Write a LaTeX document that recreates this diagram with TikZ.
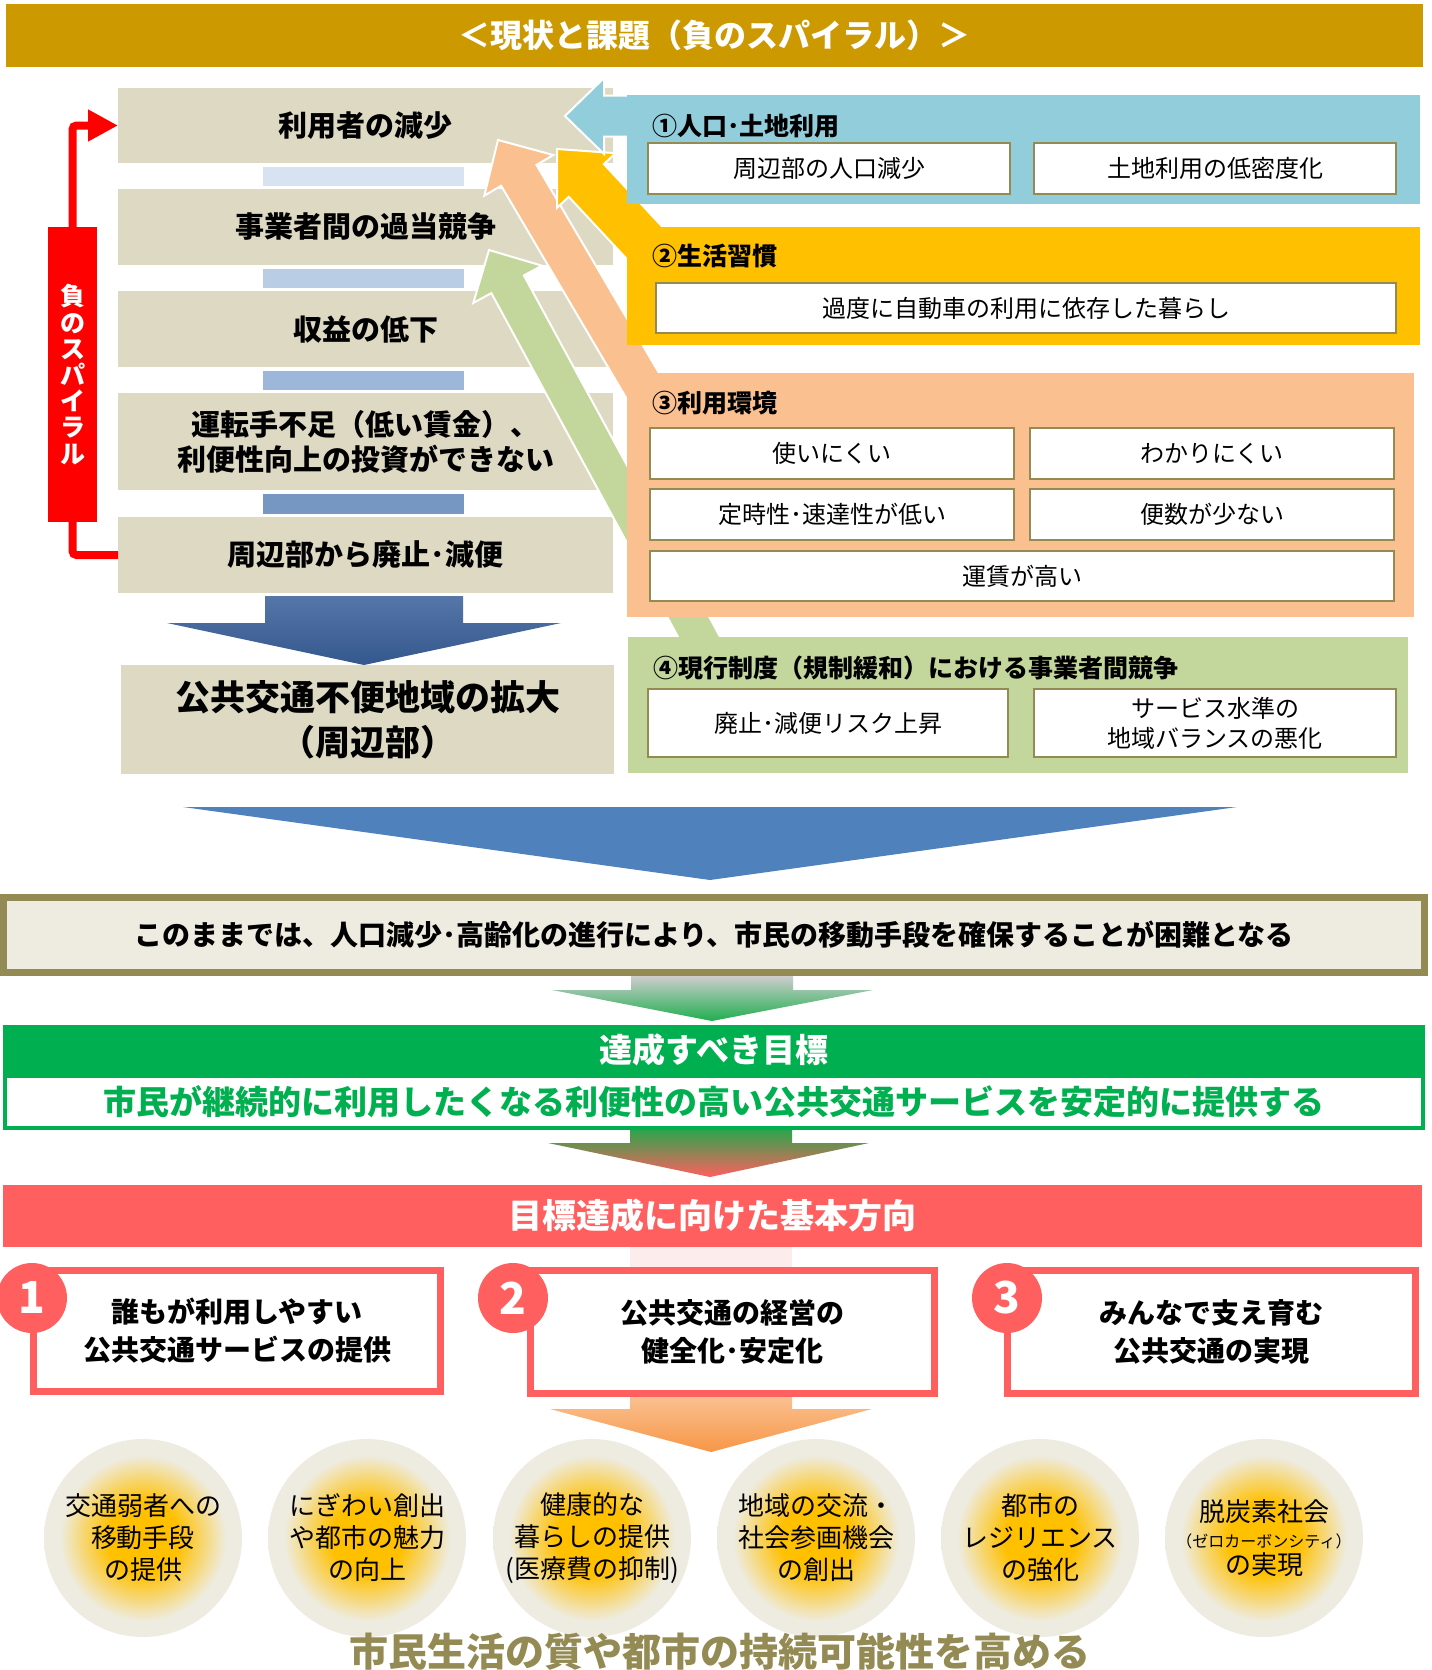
\documentclass[tikz,border=0pt]{standalone}
\usepackage{fontspec}
\setmainfont{Noto Sans CJK JP}
\usetikzlibrary{arrows.meta,calc}
\definecolor{hdrc}{HTML}{CC9900}
\definecolor{beigec}{HTML}{DDD9C3}
\definecolor{p1}{HTML}{92CDDC}
\definecolor{p2}{HTML}{FFC000}
\definecolor{p3}{HTML}{FAC090}
\definecolor{p4}{HTML}{C3D69B}
\definecolor{olivec}{HTML}{948A54}
\definecolor{bar1}{HTML}{D7E3F0}
\definecolor{bar2}{HTML}{B9CDE5}
\definecolor{bar3}{HTML}{9DB7DA}
\definecolor{bar4}{HTML}{7797C3}
\definecolor{shaftA}{HTML}{5676A8}
\definecolor{shaftB}{HTML}{34578D}
\definecolor{bigblue}{HTML}{4F81BD}
\definecolor{paleb}{HTML}{EEECE1}
\definecolor{grn}{HTML}{00B050}
\definecolor{grayA}{HTML}{CDCDCD}
\definecolor{grayM}{HTML}{C6C9C7}
\definecolor{grnB}{HTML}{1FAE4F}
\definecolor{grnC}{HTML}{2EA44C}
\definecolor{grnM}{HTML}{3F9A4E}
\definecolor{salmon}{HTML}{FF5F5F}
\definecolor{palepink}{HTML}{FDECEC}
\definecolor{orA}{HTML}{FAC090}
\definecolor{orB}{HTML}{F79646}
\pgfdeclareradialshading{glow}{\pgfpoint{0bp}{0bp}}{color(0bp)=(p2); color(9bp)=(p2); color(21bp)=(paleb); color(50bp)=(paleb)}
\newcommand\fsz[2]{\fontsize{#1}{#2}\selectfont}
\newcommand\boxat[7]{%
 \pgfmathsetmacro\bxw{(#4-#2)*0.5}\pgfmathsetmacro\bxh{(#5-#3)*0.5}%
 \pgfmathsetmacro\bxx{(#2+#4)/2}\pgfmathsetmacro\bxy{(#3+#5)/2}%
 \node[#6, minimum width=\bxw pt, minimum height=\bxh pt] (#1) at (\bxx,\bxy) {#7};}
\newcommand\blockarrow[8]{%
 \begin{scope}[shift={(#2,#3)},rotate=-#4]
 \filldraw[fill=#1,draw=white,line width=1pt] (0,0) -- (#5,-#6) -- (#5,-#7) -- (#8,-#7) -- (#8,#7) -- (#5,#7) -- (#5,#6) -- cycle;
 \end{scope}}
\begin{document}
\begin{tikzpicture}[x=0.5pt,y=-0.5pt,
 every node/.style={inner sep=0pt, outer sep=0pt},
 beigebox/.style={fill=beigec, align=center, font=\bfseries\fsz{14.5}{17.5}},
 subbox/.style={draw=olivec, line width=1pt, fill=white, align=center, font=\fsz{12}{15}},
 ptitle/.style={anchor=west, font=\bfseries\fsz{12.5}{15}},
 numbox/.style={draw=salmon, line width=3.5pt, fill=white, align=center, font=\bfseries\fsz{14}{19}},
 numc/.style={circle, fill=salmon, minimum size=35pt, text=white, font=\bfseries\fsz{22}{24}},
 glowc/.style={circle, minimum size=99pt, shade, shading=glow, align=center, font=\fsz{13}{16}},
 redline/.style={red, line width=4pt, rounded corners=2pt}]
\fill[white] (0,0) rectangle (1431,1670);
\useasboundingbox (0,0) rectangle (1431,1670);

% header
\boxat{hdr}{6}{4}{1423}{67}{fill=hdrc, text=white, font=\bfseries\fsz{16}{19}}{＜現状と課題（負のスパイラル）＞}

% left column
\boxat{b1}{118}{88}{613}{163}{beigebox}{利用者の減少}
\boxat{b2}{118}{189}{613}{265}{beigebox}{事業者間の過当競争}
\boxat{b3}{118}{291}{613}{367}{beigebox}{収益の低下}
\boxat{b4}{118}{393}{613}{490}{beigebox}{運転手不足（低い賃金）、\\利便性向上の投資ができない}
\boxat{b5}{118}{517}{613}{593}{beigebox}{周辺部から廃止･減便}
\boxat{b6}{121}{665}{614}{774}{beigebox, font=\bfseries\fsz{17.5}{22.5}}{公共交通不便地域の拡大\\（周辺部）}

\fill[bar1] ($(b1.south)+(-102.5,4)$) rectangle ($(b2.north)+(98.5,-3)$);
\fill[bar2] ($(b2.south)+(-102.5,4)$) rectangle ($(b3.north)+(98.5,-3)$);
\fill[bar3] ($(b3.south)+(-102.5,4)$) rectangle ($(b4.north)+(98.5,-3)$);
\fill[bar4] ($(b4.south)+(-102.5,4)$) rectangle ($(b5.north)+(98.5,-3)$);
\shade[top color=shaftA, bottom color=shaftB] (265,596) -- (463,596) -- (463,623) -- (561,623) -- (364,665) -- (167,623) -- (265,623) -- cycle;

% negative spiral
\boxat{spiral}{48}{227}{97}{522}{fill=red, text=white, font=\bfseries\fsz{12.5}{13.1}, align=center}{負\\の\\ス\\パ\\イ\\ラ\\ル}
\draw[redline, -{Triangle[length=15pt,width=15pt]}] (spiral.north) |- (b1.west);
\draw[redline] (spiral.south) |- (b5.west);

% cause arrows
\blockarrow{p4}{489}{250}{61.5}{39}{39}{18.5}{465}
\blockarrow{p3}{498}{140}{59.5}{41}{40}{20.5}{300}
\blockarrow{p2}{557}{149}{47}{43}{40}{24}{140}
\blockarrow{p1}{565}{116}{0}{39}{38}{20.5}{70}

% panels
\boxat{P1}{627}{95}{1420}{204}{fill=p1}{}
\node[ptitle] (t1) at (652,126) {①人口･土地利用};
\boxat{s11}{648}{143}{1010}{194}{subbox}{周辺部の人口減少}
\boxat{s12}{1034}{143}{1396}{194}{subbox}{土地利用の低密度化}

\boxat{P2}{627}{227}{1420}{345}{fill=p2}{}
\node[ptitle] (t2) at (652,256) {②生活習慣};
\boxat{s21}{656}{283}{1396}{333}{subbox}{過度に自動車の利用に依存した暮らし}

\boxat{P3}{627}{373}{1414}{617}{fill=p3}{}
\node[ptitle] (t3) at (652,403) {③利用環境};
\boxat{s31}{650}{428}{1014}{479}{subbox}{使いにくい}
\boxat{s32}{1030}{428}{1394}{479}{subbox}{わかりにくい}
\boxat{s33}{650}{489}{1014}{540}{subbox}{定時性･速達性が低い}
\boxat{s34}{1030}{489}{1394}{540}{subbox}{便数が少ない}
\boxat{s35}{650}{551}{1394}{601}{subbox}{運賃が高い}

\boxat{P4}{628}{637}{1408}{773}{fill=p4}{}
\node[ptitle] (t4) at (653,668) {④現行制度（規制緩和）における事業者間競争};
\boxat{s41}{648}{689}{1008}{757}{subbox}{廃止･減便リスク上昇}
\boxat{s42}{1034}{689}{1396}{757}{subbox}{サービス水準の\\地域バランスの悪化}

% big blue triangle
\fill[bigblue] (183,807) -- (1237,807) -- (710,880) -- cycle;

% warning box
\boxat{warn}{3.5}{897.5}{1424}{972.5}{draw=olivec, line width=3.5pt, fill=paleb, font=\bfseries\fsz{14}{17}}{このままでは、人口減少･高齢化の進行により、市民の移動手段を確保することが困難となる}

\shade[top color=grayA, middle color=grayM, bottom color=grnB] (631,976) -- (793,976) -- (793,990) -- (873,990) -- (712,1021) -- (552,990) -- (631,990) -- cycle;

% goal
\boxat{goalh}{3}{1025}{1425}{1075}{fill=grn, text=white, font=\bfseries\fsz{16.5}{20}}{達成すべき目標}
\boxat{goal}{5}{1076}{1423}{1128}{draw=grn, line width=2pt, fill=white, text=grn, font=\bfseries\fsz{16.5}{20}}{市民が継続的に利用したくなる利便性の高い公共交通サービスを安定的に提供する}

\shade[top color=grnC, middle color=grnM, bottom color=salmon] (630,1130) -- (792,1130) -- (792,1143) -- (869,1143) -- (710,1177) -- (548,1143) -- (630,1143) -- cycle;

% directions
\boxat{dirh}{3}{1185}{1422}{1247}{fill=salmon, text=white, font=\bfseries\fsz{17}{20}}{目標達成に向けた基本方向}
\fill[palepink] (630,1247) rectangle (792,1267);

\boxat{n1}{33.5}{1270.5}{440.5}{1391.5}{numbox}{誰もが利用しやすい\\公共交通サービスの提供}
\boxat{n2}{530.5}{1270.5}{934.5}{1393.5}{numbox}{公共交通の経営の\\健全化･安定化}
\boxat{n3}{1007.5}{1270.5}{1415.5}{1393.5}{numbox}{みんなで支え育む\\公共交通の実現}
\node[numc] (k1) at (32,1298) {1};
\node[numc] (k2) at (513,1298) {2};
\node[numc] (k3) at (1007,1298) {3};

\shade[top color=orA, bottom color=orB] (630,1397) -- (792,1397) -- (792,1409) -- (872,1409) -- (711,1452) -- (550,1409) -- (630,1409) -- cycle;

% outcome circles
\node[glowc] (c1) at (143,1538) {交通弱者への\\移動手段\\の提供};
\node[glowc] (c2) at (367,1538) {にぎわい創出\\や都市の魅力\\の向上};
\node[glowc] (c3) at (592,1538) {健康的な\\暮らしの提供\\(医療費の抑制)};
\node[glowc] (c4) at (816,1538) {地域の交流・\\社会参画機会\\の創出};
\node[glowc] (c5) at (1040,1538) {都市の\\レジリエンス\\の強化};
\node[glowc, font=\fsz{13}{13.3}] (c6) at (1264,1538) {脱炭素社会\\{\fsz{8}{13.3}（ゼロカーボンシティ）}\\の実現};

\node[font=\bfseries\fsz{19.5}{22}, text=olivec] (tagline) at (720,1652) {市民生活の質や都市の持続可能性を高める};
\end{tikzpicture}
\end{document}
